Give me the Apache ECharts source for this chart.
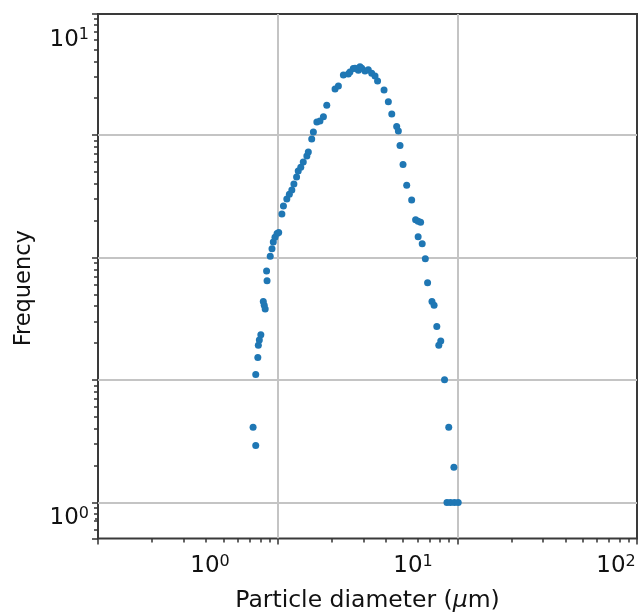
<!DOCTYPE html>
<html>
<head>
<meta charset="utf-8">
<script src="https://cdn.jsdelivr.net/npm/echarts@6/dist/echarts.min.js"></script>
<style>
html,body{margin:0;padding:0;background:#fff;}
#chart{width:641px;height:615px;}
</style>
</head>
<body>
<div id="chart"></div>
<script>
// Particle diameter (µm)
const diameters = [1.63,1.68,1.68,1.72,1.73,1.75,1.78,1.83,1.85,1.87,1.90,1.91,1.98,2.02,2.05,2.09,2.14,2.18,2.26,2.30,2.39,2.46,2.53,2.59,2.67,2.72,2.80,2.88,3.00,3.05,3.17,3.23,3.36,3.48,3.62,3.76,4.13,4.29,4.54,4.80,4.89,5.08,5.18,5.38,5.48,5.59,5.80,6.02,6.26,6.50,6.69,7.20,7.56,7.86,8.31,8.47,8.63,8.93,9.31,9.85,10.3,10.6,10.9,10.6,11.1,11.5,11.8,12.4,12.7,13.1,13.7,13.4,14.3,15.0,15.9,14.7,15.3,16.0,16.7];
// Frequency
const frequencies = [1.55,1.42,2.00,2.17,2.30,2.36,2.42,2.84,2.79,2.74,3.29,3.14,3.53,3.66,3.78,3.87,3.94,3.96,4.33,4.50,4.65,4.76,4.86,5.00,5.17,5.32,5.42,5.56,5.72,5.83,6.21,6.42,6.74,6.77,6.91,7.30,7.90,8.01,8.45,8.49,8.57,8.72,8.73,8.64,8.79,8.73,8.61,8.66,8.52,8.41,8.21,7.86,7.43,7.00,6.59,6.45,6.02,5.49,4.97,4.63,4.21,4.18,4.16,3.88,3.75,3.49,3.11,2.84,2.79,2.52,2.35,2.30,1.95,1.55,1.28,1.08,1.08,1.08,1.08];
// Tick labels
const xTickValues = [1, 10, 100];
const yTickValues = [1, 10];
// Gridline / tick decades of the inner frame
const xGridMinor = [2,3,4,5,6,7,8,9,20,30,40,50,60,70,80,90,200,300,400,500,600,700,800,900];
const yGridMinor = [0.6,0.7,0.8,0.9,2,3,4,5,6,7,8,9,20,30,40,50,60,70,80,90,200,300,400,500,600,700,800,900,2000,3000,4000,5000,6000,7000,8000,9000];

const points = diameters.map((d, i) => [d, frequencies[i]]);

const FONT = 'DejaVu Sans';
const supFmt = v => '10{s|' + Math.round(Math.log10(v)) + '}';
const labelRich = {
  s: { fontSize: 16, fontFamily: FONT, color: '#111', verticalAlign: 'top', lineHeight: 26 }
};

const chart = echarts.init(document.getElementById('chart'), null, {renderer: 'canvas'});
chart.setOption({
  animation: false,
  backgroundColor: '#fff',
  grid: {
    left: 98, right: 4, top: 14, bottom: 76.5,
    outerBoundsMode: 'none', containLabel: false,
    show: true, borderColor: '#3a3a3a', borderWidth: 2, backgroundColor: 'transparent'
  },
  xAxis: [
    { // labelled axis
      type: 'log', logBase: 10, min: 0.2807, max: 126.9,
      position: 'bottom',
      name: 'Particle diameter ({i|μ}m)', nameLocation: 'middle', nameGap: 50,
      nameTextStyle: { fontFamily: FONT, fontSize: 23.5, color: '#111',
        rich: { i: { fontFamily: FONT, fontSize: 23.5, fontStyle: 'italic', color: '#111' } } },
      axisLine: { show: false },
      axisTick: { show: false },
      splitLine: { show: false },
      minorTick: { show: false },
      axisLabel: {
        customValues: xTickValues, formatter: supFmt, rich: labelRich,
        fontFamily: FONT, fontSize: 23, color: '#111', margin: 15, lineHeight: 26
      }
    },
    { // grid decades
      type: 'log', logBase: 10, min: 1, max: 1000, position: 'bottom',
      axisLine: { show: false },
      axisLabel: { show: false },
      axisTick: { show: true, length: 6, lineStyle: { color: '#333', width: 1.5 } },
      splitLine: { show: true, showMinLine: false, showMaxLine: false, lineStyle: { color: '#c4c4c4', width: 2 } }
    },
    { // grid minor ticks
      type: 'log', logBase: 10, min: 1, max: 1000, position: 'bottom',
      axisLine: { show: false },
      axisLabel: { show: false },
      axisTick: { show: true, length: 4, customValues: xGridMinor, lineStyle: { color: '#333', width: 1.5 } },
      splitLine: { show: false }
    }
  ],
  yAxis: [
    { // labelled axis
      type: 'log', logBase: 10, min: 0.908, max: 11.33,
      position: 'left',
      name: 'Frequency', nameLocation: 'middle', nameGap: 62, nameRotate: 90,
      nameTextStyle: { fontFamily: FONT, fontSize: 22.5, color: '#111', padding: [0, 24, 0, 0] },
      axisLine: { show: false },
      axisTick: { show: true, length: 3, customValues: yTickValues, lineStyle: { color: '#333', width: 1.5 } },
      splitLine: { show: false },
      axisLabel: {
        customValues: yTickValues, formatter: supFmt, rich: labelRich,
        fontFamily: FONT, fontSize: 23, color: '#111', margin: 9, lineHeight: 26
      }
    },
    { // grid decades
      type: 'log', logBase: 10, min: 0.506, max: 9750, position: 'left',
      axisLine: { show: false },
      axisLabel: { show: false },
      axisTick: { show: true, length: 6, lineStyle: { color: '#333', width: 1.5 } },
      splitLine: { show: true, showMinLine: false, showMaxLine: false, lineStyle: { color: '#c4c4c4', width: 2 } }
    },
    { // grid minor ticks
      type: 'log', logBase: 10, min: 0.506, max: 9750, position: 'left',
      axisLine: { show: false },
      axisLabel: { show: false },
      axisTick: { show: true, length: 4, customValues: yGridMinor, lineStyle: { color: '#333', width: 1.5 } },
      splitLine: { show: false }
    }
  ],
  series: [{
    type: 'scatter',
    xAxisIndex: 0, yAxisIndex: 0,
    data: points,
    symbol: 'circle', symbolSize: 7,
    itemStyle: { color: '#1f77b4', opacity: 1 },
    z: 5
  }]
});
</script>
</body>
</html>
